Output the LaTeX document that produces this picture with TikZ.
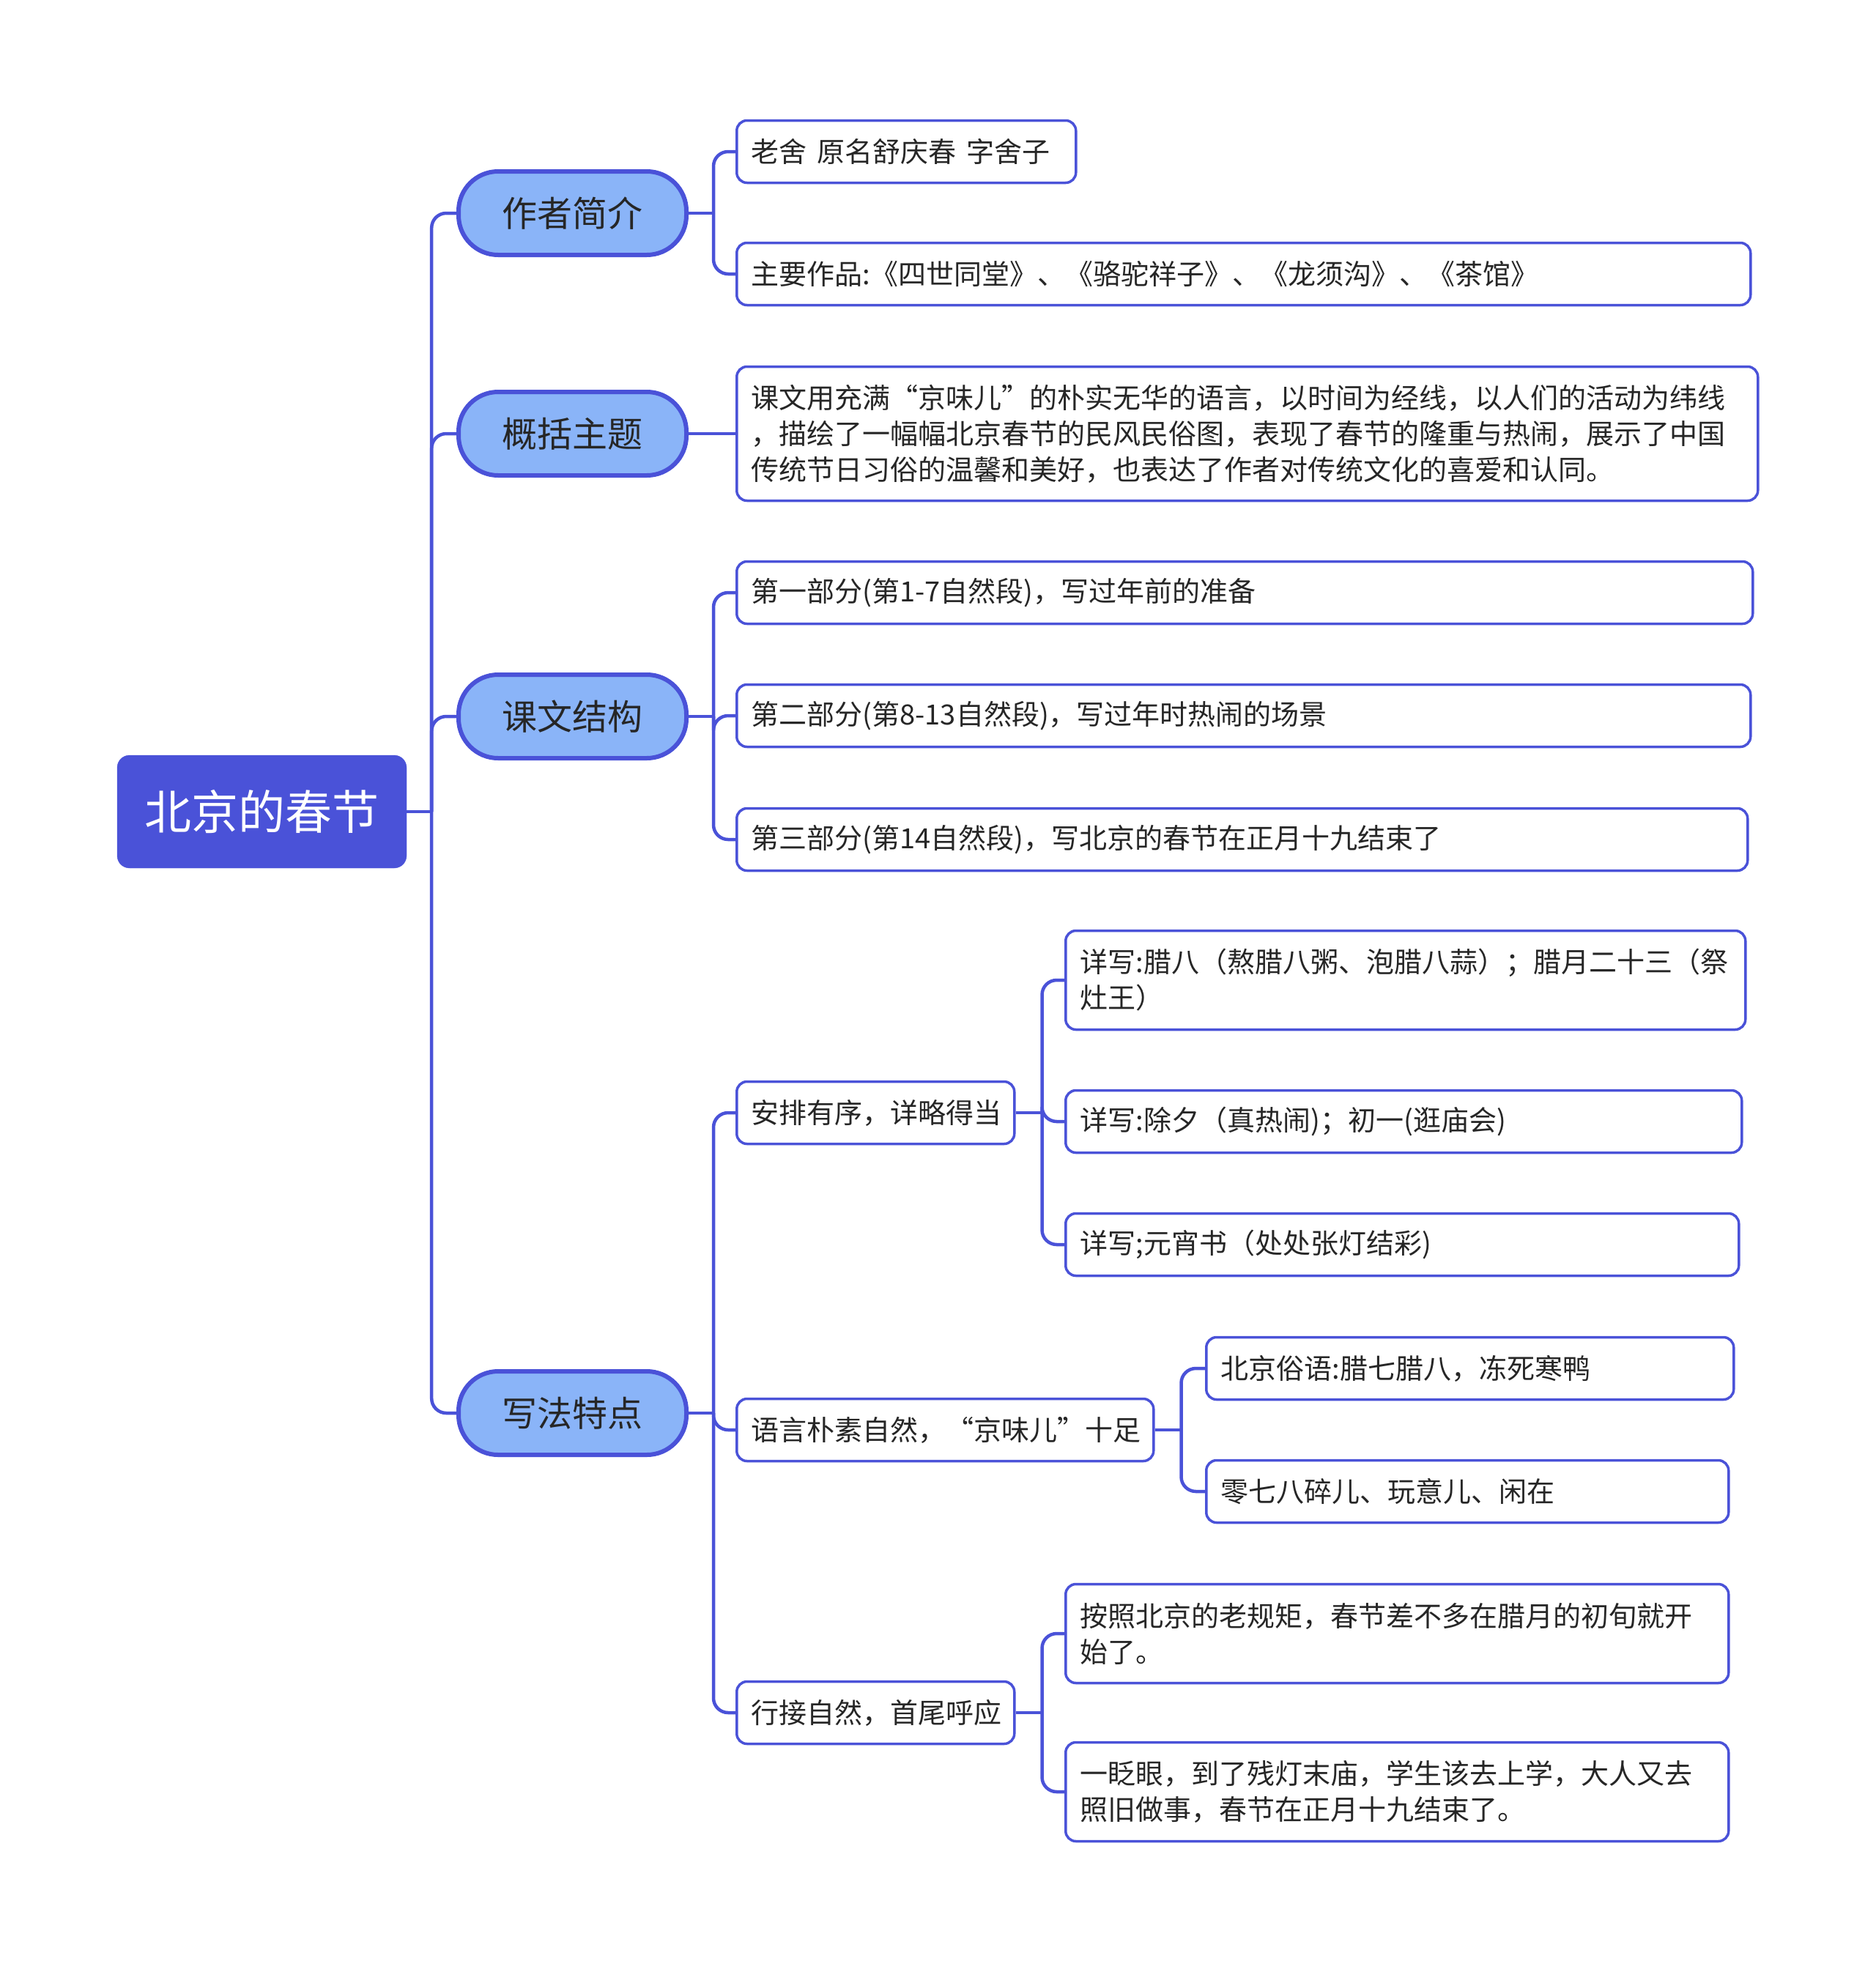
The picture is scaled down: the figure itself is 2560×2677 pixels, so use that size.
\documentclass[tikz,border=0pt]{standalone}
\usepackage{fontspec}
\usetikzlibrary{calc,backgrounds}
\newfontfamily\cjk{Noto Sans CJK SC}
\definecolor{lineC}{HTML}{4A52D8}
\definecolor{rootC}{HTML}{4A52D8}
\definecolor{pillC}{HTML}{8AB4F8}
\definecolor{textC}{HTML}{262626}
\tikzset{
  rootbox/.style={draw=rootC, fill=rootC, rounded corners=17pt, minimum width=395pt, minimum height=154pt, inner sep=0pt, text=white, font=\cjk\fontsize{64}{76}\selectfont},
  lvone/.style={draw=lineC, fill=pillC, line width=6pt, rounded corners=54pt, minimum width=311pt, minimum height=114pt, inner sep=0pt, anchor=west, text=textC, font=\cjk\fontsize{48}{58}\selectfont},
  lvtwo/.style={draw=lineC, fill=white, line width=3.5pt, rounded corners=14pt, minimum height=85pt, inner xsep=20pt, inner ysep=0pt, anchor=west, align=left, text=textC, font=\cjk\fontsize{38}{49}\selectfont},
  conn/.style={draw=lineC, line width=4.5pt, rounded corners=20pt}
}
\begin{document}
\begin{tikzpicture}[x=1pt,y=-1pt]
\useasboundingbox (0,0) rectangle (2560,2677);
% root
\node[rootbox] (root) at (357.5,1108) {北京的春节};
% level 1
\node[lvone] (zz) at (623,291) {作者简介};
\node[lvone] (gk) at (623,592) {概括主题};
\node[lvone] (jg) at (623,978) {课文结构};
\node[lvone] (xf) at (623,1929) {写法特点};
% level 2
\node[lvtwo, text width=423pt] (zz1) at (1004,207) {老舍\hspace{14pt}原名舒庆春\hspace{14pt}字舍子};
\node[lvtwo, text width=1344pt] (zz2) at (1004,374) {主要作品:《四世同堂》、《骆驼祥子》、《龙须沟》、《茶馆》};
\node[lvtwo, text width=1354pt, minimum height=183pt] (gk1) at (1004,592) {课文用充满“京味儿”的朴实无华的语言，以时间为经线，以人们的活动为纬线\\，描绘了一幅幅北京春节的民风民俗图，表现了春节的隆重与热闹，展示了中国\\传统节日习俗的温馨和美好，也表达了作者对传统文化的喜爱和认同。};
\node[lvtwo, text width=1347pt] (jg1) at (1004,809) {第一部分(第1-7自然段)，写过年前的准备};
\node[lvtwo, text width=1344pt] (jg2) at (1004,977) {第二部分(第8-13自然段)，写过年时热闹的场景};
\node[lvtwo, text width=1340pt] (jg3) at (1004,1146) {第三部分(第14自然段)，写北京的春节在正月十九结束了};
\node[lvtwo, text width=339pt] (xa) at (1004,1519) {安排有序，详略得当};
\node[lvtwo, text width=529pt] (xb) at (1004,1952) {语言朴素自然，“京味儿”十足};
\node[lvtwo, text width=339pt] (xc) at (1004,2338) {行接自然，首尾呼应};
% level 3
\node[lvtwo, text width=888pt, minimum height=135pt] (xa1) at (1453,1338) {详写:腊八（熬腊八粥、泡腊八蒜）；腊月二十三（祭\\灶王）};
\node[lvtwo, text width=883pt] (xa2) at (1453,1531) {详写:除夕（真热闹)；初一(逛庙会)};
\node[lvtwo, text width=879pt] (xa3) at (1453,1699) {详写;元宵书（处处张灯结彩)};
\node[lvtwo, text width=680pt] (xb1) at (1645,1868) {北京俗语:腊七腊八，冻死寒鸭};
\node[lvtwo, text width=673pt] (xb2) at (1645,2036) {零七八碎儿、玩意儿、闲在};
\node[lvtwo, text width=865pt, minimum height=135pt] (xc1) at (1453,2230) {按照北京的老规矩，春节差不多在腊月的初旬就开\\始了。};
\node[lvtwo, text width=865pt, minimum height=135pt] (xc2) at (1453,2446) {一眨眼，到了残灯末庙，学生该去上学，大人又去\\照旧做事，春节在正月十九结束了。};
% junction coordinates
\coordinate (jr) at ($(root.east)+(34,0)$);
\coordinate (jzz) at ($(zz.east)+(34,0)$);
\coordinate (jjg) at ($(jg.east)+(34,0)$);
\coordinate (jxf) at ($(xf.east)+(34,0)$);
\coordinate (jxa) at ($(xa.east)+(36,0)$);
\coordinate (jxb) at ($(xb.east)+(36,0)$);
\coordinate (jxc) at ($(xc.east)+(36,0)$);
% connectors
\begin{scope}[on background layer]
\draw[conn] (root.east) -- (jr);
\foreach \c in {zz,gk,jg,xf} { \draw[conn] (jr) |- (\c.west); }
\draw[conn] (zz.east) -- (jzz);
\foreach \c in {zz1,zz2} { \draw[conn] (jzz) |- (\c.west); }
\draw[conn] (gk.east) -- (gk1.west);
\draw[conn] (jg.east) -- (jjg);
\foreach \c in {jg1,jg2,jg3} { \draw[conn] (jjg) |- (\c.west); }
\draw[conn] (xf.east) -- (jxf);
\foreach \c in {xa,xb,xc} { \draw[conn] (jxf) |- (\c.west); }
\draw[conn] (xa.east) -- (jxa);
\foreach \c in {xa1,xa2,xa3} { \draw[conn] (jxa) |- (\c.west); }
\draw[conn] (xb.east) -- (jxb);
\foreach \c in {xb1,xb2} { \draw[conn] (jxb) |- (\c.west); }
\draw[conn] (xc.east) -- (jxc);
\foreach \c in {xc1,xc2} { \draw[conn] (jxc) |- (\c.west); }
\end{scope}
\end{tikzpicture}
\end{document}
